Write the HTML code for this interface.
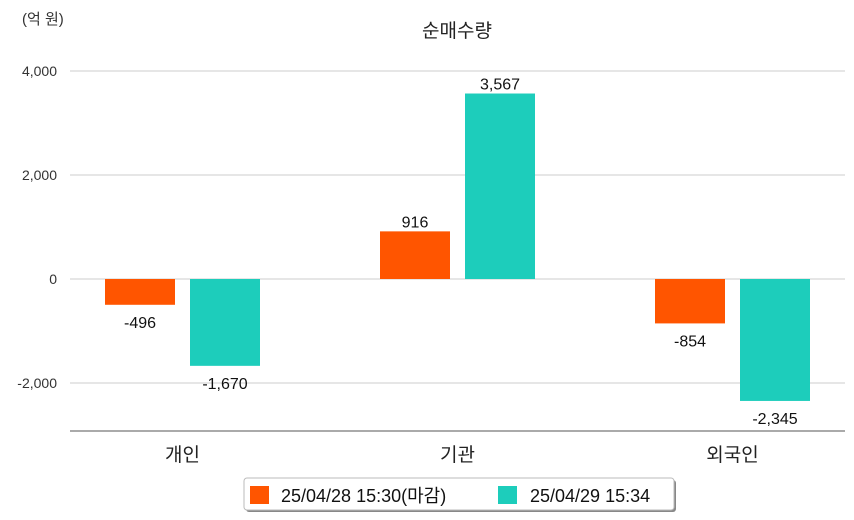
<!DOCTYPE html>
<html><head><meta charset="utf-8"><style>
body{margin:0;background:#fff;}
svg{display:block;font-family:"Liberation Sans","Noto Sans CJK KR",sans-serif;}
</style></head><body>
<svg id="c" width="854" height="520">
<text x="22" y="24" font-size="15" fill="#333">(억 원)</text>
<text x="457" y="37" font-size="19" fill="#222" text-anchor="middle">순매수량</text>
<g id="grid"></g><g id="bars"></g>
<line x1="70" y1="431" x2="845" y2="431" stroke="#555" stroke-width="1"/>
<g>
<rect x="246" y="480" width="430" height="32" rx="3" fill="#888"/>
<rect x="244" y="478" width="430" height="32" rx="3" fill="#fff" stroke="#bbb"/>
<rect x="250" y="486" width="19" height="18" fill="#ff5500"/>
<text x="281" y="502" font-size="18" fill="#111">25/04/28 15:30(마감)</text>
<rect x="498" y="486" width="19" height="18" fill="#1dcdbb"/>
<text x="530" y="502" font-size="18" fill="#111">25/04/29 15:34</text>
</g>
</svg>
<script>
const categories=["개인","기관","외국인"];
const series1=[-496,916,-854];
const series2=[-1670,3567,-2345];
const ticks=[4000,2000,0,-2000];
const tickLabels=["4,000","2,000","0","-2,000"];
const NS="http://www.w3.org/2000/svg";
const y=v=>279-v*0.052;
const cx=i=>182.5+i*275;
const grid=document.getElementById('grid'),bars=document.getElementById('bars');
function mk(tag,attrs,parent){const e=document.createElementNS(NS,tag);for(const k in attrs)e.setAttribute(k,attrs[k]);parent.appendChild(e);return e;}
ticks.forEach((t,i)=>{
 const l=mk('line',{x1:70,x2:845,y1:y(t),y2:y(t),stroke:'#ccc'},grid);
 
 
 const tx=mk('text',{x:57,y:y(t)+5,'font-size':14,fill:'#333','text-anchor':'end'},grid);
 tx.textContent=tickLabels[i];
 
 
});
const fmt=v=>v.toLocaleString('en-US');
categories.forEach((c,i)=>{
 [[series1,'#ff5500',-77.5],[series2,'#1dcdbb',7.5]].forEach(([s,col,off],j)=>{
  const v=s[i],x=cx(i)+off,top=Math.min(y(v),y(0)),h=Math.abs(y(v)-y(0));
  const r=mk('rect',{x:x,y:top,width:70,height:h,fill:col},bars);
  
  
  const t=mk('text',{x:x+35,y:v>=0?y(v)-4:y(v)+23,'font-size':16,fill:'#111','text-anchor':'middle'},bars);
  t.textContent=fmt(v);
  
  
 });
 const t=mk('text',{x:cx(i),y:461,'font-size':19,fill:'#222','text-anchor':'middle'},bars);
 t.textContent=c;
 
 
});
</script>
</body></html>
